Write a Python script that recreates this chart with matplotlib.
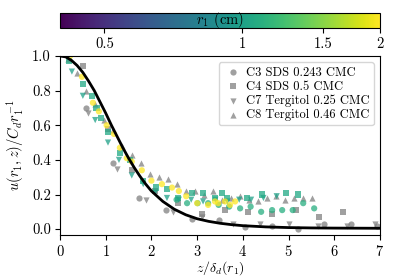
import matplotlib
matplotlib.use('Agg')
import matplotlib.pyplot as plt
from matplotlib.colors import LogNorm
from matplotlib.cm import ScalarMappable
from matplotlib.ticker import FixedLocator, FixedFormatter, NullLocator

plt.rcParams['font.family'] = 'serif'
plt.rcParams['font.serif'] = ['cmr10']
plt.rcParams['mathtext.fontset'] = 'cm'
plt.rcParams['axes.formatter.use_mathtext'] = True
plt.rcParams['axes.unicode_minus'] = False

# model curve
z_fit = [0, 0.125, 0.25, 0.375, 0.5, 0.625, 0.75, 0.875, 1.0, 1.125, 1.25,
         1.375, 1.5, 1.625, 1.75, 1.875, 2.0, 2.25, 2.5, 2.75, 3.0, 3.25,
         3.5, 3.75, 4.0, 4.5, 5.0, 5.5, 6.0, 7.0]
u_fit = [1.0, 0.995, 0.975, 0.945, 0.905, 0.855, 0.80, 0.735, 0.67, 0.60,
         0.535, 0.47, 0.41, 0.355, 0.305, 0.26, 0.22, 0.16, 0.115, 0.083,
         0.06, 0.045, 0.034, 0.026, 0.02, 0.013, 0.009, 0.007, 0.006, 0.005]

# grey profiles (one per case)
c3_z = [0.57, 1.16, 1.73, 2.32, 2.89, 3.48, 4.05, 4.63, 5.2, 5.78, 6.36, 6.93]
c3_u = [0.70, 0.38, 0.18, 0.11, 0.06, 0.05, 0.01, 0.02, 0.0, 0.03, 0.03, 0.02]
c4_z = [0.5, 1.05, 1.57, 2.08, 2.58, 3.1, 3.61, 4.12, 4.63, 5.16, 5.67, 6.19]
c4_u = [0.94, 0.58, 0.34, 0.22, 0.15, 0.09, 0.11, 0.10, 0.09, 0.11, 0.07, 0.10]
c7_z = [0.62, 1.25, 1.88, 2.47, 3.1, 3.78, 4.38, 5.0, 5.65, 6.28, 6.9]
c7_u = [0.67, 0.35, 0.17, 0.10, 0.07, 0.03, 0.03, 0.03, 0.02, 0.02, 0.03]
c8_z = [0.18, 0.37, 0.57, 0.77, 0.96, 1.16, 1.36, 1.57, 1.77, 1.97, 2.17,
        2.36, 2.56, 2.76, 2.95, 3.15, 3.35, 3.55, 3.74, 3.94, 4.14, 4.33,
        4.53, 4.73, 4.92, 5.12, 5.32, 5.51]
c8_u = [0.98, 0.90, 0.80, 0.72, 0.63, 0.57, 0.48, 0.43, 0.38, 0.32, 0.30,
        0.29, 0.26, 0.22, 0.22, 0.20, 0.22, 0.17, 0.18, 0.19, 0.17, 0.16,
        0.18, 0.19, 0.17, 0.18, 0.18, 0.18]

# coloured profiles (colour = r1 in cm)
sq_r1 = 1.05
sq_z = [0.2, 0.5, 0.7, 0.8, 0.9, 1.05, 1.31, 1.53, 1.82, 2.1, 2.34, 2.58,
        2.89, 3.13, 3.39, 3.54, 3.65, 4.09, 4.42, 4.94, 5.2]
sq_u = [0.97, 0.84, 0.77, 0.70, 0.64, 0.56, 0.44, 0.40, 0.28, 0.24, 0.23,
        0.18, 0.21, 0.21, 0.18, 0.21, 0.18, 0.18, 0.20, 0.21, 0.20]
dt_r1 = 1.0
dt_z = [0.26, 0.5, 0.77, 1.05, 1.29, 1.57, 1.82, 2.08, 2.34, 2.6, 2.87,
        3.13, 3.4, 3.66, 3.92, 4.18, 4.45, 4.74]
dt_u = [0.91, 0.77, 0.63, 0.50, 0.40, 0.31, 0.26, 0.21, 0.18, 0.17, 0.17,
        0.16, 0.17, 0.16, 0.17, 0.17, 0.18, 0.19]
ci_r1 = 1.1
ci_z = [2.55, 2.78, 3.01, 3.24, 3.47, 3.7, 3.94, 4.17, 4.4, 4.64, 4.86,
        5.09, 5.32, 5.56]
ci_u = [0.17, 0.15, 0.15, 0.15, 0.14, 0.13, 0.12, 0.13, 0.10, 0.11, 0.11,
        0.11, 0.15, 0.12]
ye_r1 = 2.0
ye_z = [0.22, 0.48, 0.72, 0.85, 1.02, 1.18, 1.31, 1.46, 1.57, 1.79, 2.0,
        2.23, 2.45, 2.6, 2.76, 3.0, 3.24, 3.39, 3.46, 3.61, 3.72, 3.83]
ye_u = [1.0, 0.88, 0.73, 0.68, 0.60, 0.55, 0.47, 0.41, 0.39, 0.34, 0.28,
        0.26, 0.24, 0.22, 0.19, 0.15, 0.14, 0.16, 0.15, 0.16, 0.14, 0.16]

labels = ['C3 SDS 0.243 CMC', 'C4 SDS 0.5 CMC',
          'C7 Tergitol 0.25 CMC', 'C8 Tergitol 0.46 CMC']

norm = LogNorm(vmin=0.4, vmax=2)
cmap = 'viridis'

fig = plt.figure(figsize=(4, 2.8), dpi=100)
ax = fig.add_axes([0.15, 0.16, 0.8, 0.64])
cax = fig.add_axes([0.15, 0.9, 0.8, 0.054])

ms = 20
al = 0.75
ax.scatter(c3_z, c3_u, s=ms, marker='o', color='grey', alpha=al, lw=0, label=labels[0])
ax.scatter(c4_z, c4_u, s=ms, marker='s', color='grey', alpha=al, lw=0, label=labels[1])
ax.scatter(c7_z, c7_u, s=ms, marker='v', color='grey', alpha=al, lw=0, label=labels[2])
ax.scatter(c8_z, c8_u, s=ms, marker='^', color='grey', alpha=al, lw=0, label=labels[3])

ax.scatter(ci_z, ci_u, s=ms, marker='o', c=[ci_r1] * len(ci_z), cmap=cmap, norm=norm, alpha=al, lw=0)
ax.scatter(dt_z, dt_u, s=ms, marker='v', c=[dt_r1] * len(dt_z), cmap=cmap, norm=norm, alpha=al, lw=0)
ax.scatter(sq_z, sq_u, s=ms, marker='s', c=[sq_r1] * len(sq_z), cmap=cmap, norm=norm, alpha=al, lw=0)
ax.scatter(ye_z, ye_u, s=ms, marker='o', c=[ye_r1] * len(ye_z), cmap=cmap, norm=norm, alpha=al, lw=0)

ax.plot(z_fit, u_fit, color='black', lw=2)

ax.set_xlim(0, 7)
ax.set_ylim(-0.035, 1.0)
ax.set_xticks(range(0, 8))
ax.set_yticks([0.0, 0.2, 0.4, 0.6, 0.8, 1.0])
ax.set_yticklabels(['0.0', '0.2', '0.4', '0.6', '0.8', '1.0'])
ax.tick_params(labelsize=10.5, pad=3)
ax.set_xlabel(r'$z/\delta_d(r_1)$', fontsize=10, labelpad=0)
ax.set_ylabel(r'$u(r_1,z)/C_d r_1^{-1}$', fontsize=10.5, labelpad=4)

leg = ax.legend(loc='upper right', fontsize=9, handletextpad=0.3,
                borderpad=0.35, labelspacing=0.15, handlelength=1.5)

sm = ScalarMappable(norm=norm, cmap=cmap)
cb = fig.colorbar(sm, cax=cax, orientation='horizontal')
cax.xaxis.set_major_locator(FixedLocator([0.5, 1, 1.5, 2]))
cax.xaxis.set_major_formatter(FixedFormatter(['0.5', '1', '1.5', '2']))
cax.xaxis.set_minor_locator(NullLocator())
cax.tick_params(labelsize=10.5)
cax.text(0.5, 0.5, r'$r_1$ (cm)', transform=cax.transAxes, ha='center',
         va='center', fontsize=10.5)

fig.savefig('out.png', dpi=100)
